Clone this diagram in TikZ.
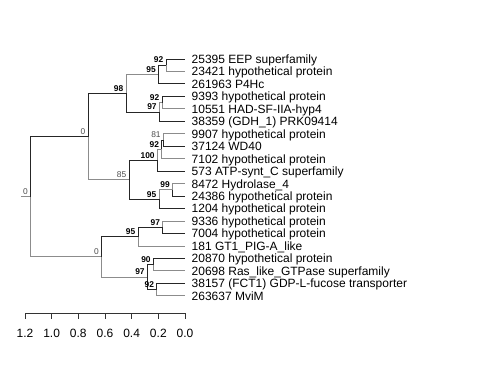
\documentclass[tikz,border=0pt]{standalone}
\usepackage{fontspec}
\setmainfont{Liberation Sans}
\usetikzlibrary{positioning, calc}

\begin{document}
\begin{tikzpicture}[
    x=1pt, y=-1pt,
    dk/.style={draw=black!85, line width=1pt},
    lt/.style={draw=black!45, line width=1pt},
    leaf/.style={anchor=base west, inner sep=0pt, xshift=6.5pt, yshift=-4.3pt, font=\fontsize{12}{14}\selectfont},
    bs/.style={anchor=south east, inner sep=0pt, xshift=-2.5pt, yshift=2pt, font=\fontsize{8.4}{10}\selectfont\bfseries},
    bsl/.style={anchor=south east, inner sep=0pt, xshift=-2.5pt, yshift=2pt, font=\fontsize{8.4}{10}\selectfont, text=black!70},
    axis/.style={draw=black!80, line width=0.8pt},
    axlab/.style={anchor=base, inner sep=0pt, font=\fontsize{12}{14}\selectfont}
]
\useasboundingbox (0,0) rectangle (480,384);

% Tips and labels
\foreach \i/\lab in {1/25395 EEP superfamily, 2/23421 hypothetical protein, 3/261963 P4Hc,
    4/9393 hypothetical protein, 5/10551 HAD-SF-IIA-hyp4, 6/38359 (GDH\_1) PRK09414,
    7/9907 hypothetical protein, 8/37124 WD40, 9/7102 hypothetical protein,
    10/573 ATP-synt\_C superfamily, 11/8472 Hydrolase\_4, 12/24386 hypothetical protein,
    13/1204 hypothetical protein, 14/9336 hypothetical protein, 15/7004 hypothetical protein,
    16/181 GT1\_PIG-A\_like, 17/20870 hypothetical protein, 18/20698 Ras\_like\_GTPase superfamily,
    19/38157 (FCT1) GDP-L-fucose transporter, 20/263637 MviM}{
  \coordinate (l\i) at (185, {59+(\i-1)*12.47});
  \node[leaf] (t\i) at (l\i) {\lab};
}

% Inner nodes
\coordinate (stub) at (21, 196.76);
\coordinate (root) at (30.5, 196.76);
\coordinate (n0u) at (88, 136.55);
\coordinate (n98) at (126, 93.29);
\coordinate (n95a) at (158.5, 74.59);
\coordinate (n92a) at (166, 65.24);
\coordinate (n97a) at (159.3, 112.0);
\coordinate (n92c) at (162, 102.65);
\coordinate (n85) at (129, 179.8);
\coordinate (n100) at (157.3, 160.32);
\coordinate (n92b) at (161.7, 149.41);
\coordinate (n81) at (163.3, 140.06);
\coordinate (n95b) at (159, 199.29);
\coordinate (n99) at (172.5, 189.94);
\coordinate (n0l) at (101.5, 256.96);
\coordinate (n95c) at (138, 236.7);
\coordinate (n97c) at (162.7, 227.35);
\coordinate (n97d) at (147.3, 277.23);
\coordinate (n90) at (153.3, 264.76);
\coordinate (n92d) at (156.7, 289.7);

% Branches
\draw[lt] (stub) -- (root);
\draw[dk] (root) |- (n0u);
\draw[lt] (root) |- (n0l);
\draw[dk] (n0u) |- (n98);
\draw[lt] (n0u) |- (n85);
\draw[lt] (n98) |- (n95a);
\draw[dk] (n98) |- (n97a);
\draw[dk] (n95a) |- (n92a);
\draw[dk] (n95a) |- (l3);
\draw[dk] (n92a) |- (l1);
\draw[lt] (n92a) |- (l2);
\draw[lt] (n97a) |- (n92c);
\draw[dk] (n97a) |- (l6);
\draw[dk] (n92c) |- (l4);
\draw[lt] (n92c) |- (l5);
\draw[dk] (n85) |- (n100);
\draw[dk] (n85) |- (n95b);
\draw[lt] (n100) |- (n92b);
\draw[dk] (n100) |- (l10);
\draw[dk] (n92b) |- (n81);
\draw[lt] (n92b) |- (l9);
\draw[lt] (n81) |- (l7);
\draw[dk] (n81) |- (l8);
\draw[lt] (n95b) |- (n99);
\draw[dk] (n95b) |- (l13);
\draw[lt] (n99) |- (l11);
\draw[dk] (n99) |- (l12);
\draw[dk] (n0l) |- (n95c);
\draw[lt] (n0l) |- (n97d);
\draw[dk] (n95c) |- (n97c);
\draw[lt] (n95c) |- (l16);
\draw[lt] (n97c) |- (l14);
\draw[dk] (n97c) |- (l15);
\draw[dk] (n97d) |- (n90);
\draw[dk] (n97d) |- (n92d);
\draw[dk] (n90) |- (l17);
\draw[lt] (n90) |- (l18);
\draw[dk] (n92d) |- (l19);
\draw[lt] (n92d) |- (l20);

% Support values
\node[bsl] (broot) at (root) {0};
\node[bsl] (b0u) at (n0u) {0};
\node[bs] (b98) at (n98) {98};
\node[bs] (b95a) at (n95a) {95};
\node[bs] (b92a) at (n92a) {92};
\node[bs] (b97a) at (n97a) {97};
\node[bs] (b92c) at (n92c) {92};
\node[bsl] (b85) at (n85) {85};
\node[bs] (b100) at (n100) {100};
\node[bs] (b92b) at (n92b) {92};
\node[bsl] (b81) at (n81) {81};
\node[bs] (b95b) at (n95b) {95};
\node[bs] (b99) at (n99) {99};
\node[bsl] (b0l) at (n0l) {0};
\node[bs] (b95c) at (n95c) {95};
\node[bs] (b97c) at (n97c) {97};
\node[bs] (b97d) at (n97d) {97};
\node[bs] (b90) at (n90) {90};
\node[bs] (b92d) at (n92d) {92};

% Scale axis
\coordinate (ax0) at (185, 313);
\coordinate (ax6) at (25, 313);
\draw[axis] (ax6) -- (ax0);
\foreach \k/\lab in {0/0.0, 1/0.2, 2/0.4, 3/0.6, 4/0.8, 5/1.0, 6/1.2}{
  \coordinate (tk\k) at ({185-\k*26.667}, 313);
  \draw[axis] (tk\k) -- ++(0, 5.5);
  \node[axlab] (sl\k) at ({185-\k*26.667}, 337.3) {\lab};
}

\end{tikzpicture}
\end{document}
